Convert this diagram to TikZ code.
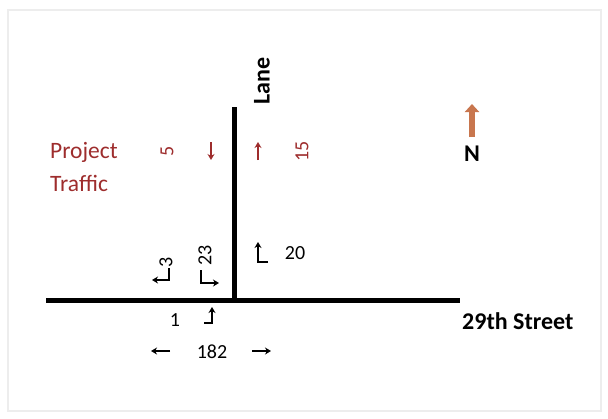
\documentclass[tikz,border=0pt]{standalone}
\usepackage{fontspec}
\setmainfont{Carlito}
\usetikzlibrary{arrows.meta}
\definecolor{ptred}{RGB}{158,45,45}
\definecolor{narrowc}{RGB}{200,118,78}
\begin{document}
\begin{tikzpicture}[x=1pt,y=-1pt,
  road/.style={line width=5pt},
  lbl/.style={font=\fontsize{24}{26}\selectfont\bfseries, inner sep=0pt},
  ptxt/.style={font=\fontsize{23.5}{26}\selectfont, inner sep=0pt, text=ptred},
  num/.style={font=\fontsize{20}{22}\selectfont, inner sep=0pt},
  mv/.style={line width=1.6pt, -{Stealth[length=6pt,width=7pt]}},
  pmv/.style={mv, ptred}
]
\useasboundingbox (0,0) rectangle (608,418);
\fill[white] (0,0) rectangle (608,418);
\draw[gray!14, line width=1.2pt] (8,10) rectangle (601,411);

% roads
\coordinate (ntop) at (234,107);
\coordinate (nbot) at (234,302);
\coordinate (west) at (46,300);
\coordinate (east) at (460,300);
\draw[road] (ntop) -- (nbot);
\draw[road] (west) -- (east);

% street labels
\node[lbl, rotate=90] (lane) at (262,81) {Lane};
\node[lbl, anchor=west] (street) at (462,321) {29th Street};

% north arrow
\coordinate (nb) at (472,137);
\coordinate (nt) at (472,104);
\draw[narrowc, line width=6pt, -{Triangle[length=8pt,width=14pt]}] (nb) -- (nt);
\node[lbl] (north) at (472,154) {N};

% project traffic
\node[ptxt, anchor=west] (proj) at (50,152) {Project};
\node[ptxt, anchor=west] (traf) at (50,183) {Traffic};
\node[num, text=ptred, rotate=90] (v5) at (167,151) {5};
\node[num, text=ptred, rotate=90] (v15) at (302,151) {15};
\coordinate (sd1) at (211,142);
\coordinate (sd2) at (211,160);
\coordinate (nu1) at (258,160);
\coordinate (nu2) at (258,142);
\draw[pmv] (sd1) -- (sd2);
\draw[pmv] (nu1) -- (nu2);

% southbound existing
\node[num, rotate=90] (v3) at (166,262) {3};
\node[num, rotate=90] (v23) at (205,255) {23};
\coordinate (sr1) at (169,268);
\coordinate (sr2) at (169,280);
\coordinate (sr3) at (152,280);
\draw[mv] (sr1) -- (sr2) -- (sr3);
\coordinate (sl1) at (201,270);
\coordinate (sl2) at (201,283);
\coordinate (sl3) at (219,283);
\draw[mv] (sl1) -- (sl2) -- (sl3);

% westbound right
\coordinate (wr1) at (268,262);
\coordinate (wr2) at (258,262);
\coordinate (wr3) at (258,242);
\draw[mv] (wr1) -- (wr2) -- (wr3);
\node[num] (v20) at (295,253) {20};

% eastbound left
\node[num] (v1) at (175,320) {1};
\coordinate (el1) at (204,323);
\coordinate (el2) at (212,323);
\coordinate (el3) at (212,307);
\draw[mv] (el1) -- (el2) -- (el3);

% through volume
\node[num] (v182) at (212,352) {182};
\coordinate (tl1) at (170,351);
\coordinate (tl2) at (151,351);
\coordinate (tr1) at (252,351);
\coordinate (tr2) at (271,351);
\draw[mv] (tl1) -- (tl2);
\draw[mv] (tr1) -- (tr2);
\end{tikzpicture}
\end{document}
